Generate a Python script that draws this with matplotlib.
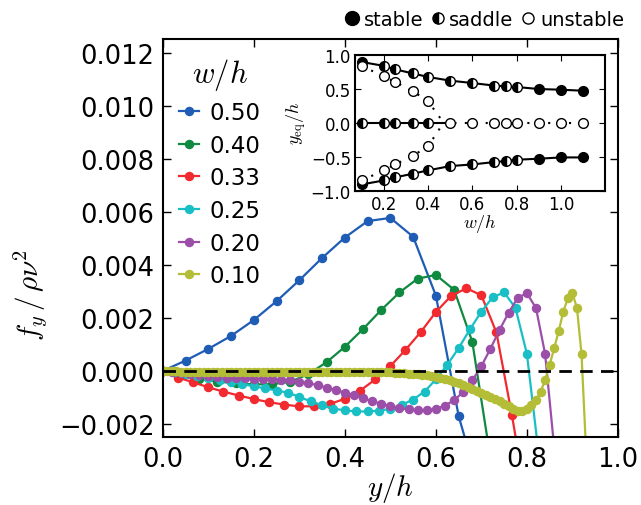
import matplotlib
matplotlib.use("Agg")
import matplotlib.pyplot as plt
from matplotlib.lines import Line2D

plt.rcParams['mathtext.fontset'] = 'cm'
plt.rcParams['font.family'] = ['DejaVu Sans']

# main panel: lift force vs position, one curve per w/h
y_050 = [0.0, 0.05, 0.10, 0.15, 0.20, 0.25, 0.30, 0.35, 0.40, 0.45, 0.50, 0.55, 0.60, 0.65, 0.70]
f_050 = [0.0, 0.00039, 0.00083, 0.00132, 0.00192, 0.00263, 0.00342, 0.00426, 0.00503, 0.00565,
         0.00577, 0.00506, 0.00284, -0.0017, -0.0047]

y_040 = [0.0, 0.04, 0.08, 0.12, 0.16, 0.20, 0.24, 0.28, 0.32, 0.36, 0.40, 0.44, 0.48, 0.52,
         0.56, 0.60, 0.64, 0.68, 0.72]
f_040 = [0.0, -0.00015, -0.0003, -0.0004, -0.00047, -0.00051, -0.0005, -0.00041, -0.00012,
         0.00033, 0.00091, 0.00158, 0.0023, 0.00296, 0.00348, 0.00362, 0.00306, 0.0011, -0.0033]

y_033 = [0.0, 0.033, 0.067, 0.100, 0.133, 0.167, 0.200, 0.233, 0.267, 0.300, 0.333, 0.367,
         0.400, 0.433, 0.467, 0.500, 0.533, 0.567, 0.600, 0.633, 0.667, 0.700, 0.733, 0.767, 0.800]
f_033 = [0.0, -0.00025, -0.00043, -0.00062, -0.00078, -0.00093, -0.00106, -0.00118, -0.00127,
         -0.00134, -0.00133, -0.00125, -0.00105, -0.00075, -0.00032, 0.00018, 0.00079, 0.00147,
         0.00222, 0.00282, 0.00312, 0.00285, 0.00145, -0.00166, -0.0050]

y_025 = [0.0, 0.025, 0.05, 0.075, 0.10, 0.125, 0.15, 0.175, 0.20, 0.225, 0.25, 0.275, 0.30,
         0.325, 0.35, 0.375, 0.40, 0.425, 0.45, 0.475, 0.50, 0.525, 0.55, 0.575, 0.60, 0.625,
         0.65, 0.675, 0.70, 0.725, 0.75, 0.775, 0.80, 0.825]
f_025 = [0.0, -0.00005, -0.0001, -0.00018, -0.00026, -0.00034, -0.00042, -0.0005, -0.00058,
         -0.00066, -0.00074, -0.00082, -0.00098, -0.00115, -0.0013, -0.00142, -0.00149, -0.00153,
         -0.00153, -0.0015, -0.00143, -0.00128, -0.00108, -0.00078, -0.00032, 0.00023, 0.00086,
         0.00157, 0.00224, 0.00278, 0.00296, 0.00237, 0.00064, -0.0030]

y_020 = [0.0, 0.02, 0.04, 0.06, 0.08, 0.10, 0.12, 0.14, 0.16, 0.18, 0.20, 0.22, 0.24, 0.26,
         0.28, 0.30, 0.32, 0.34, 0.36, 0.38, 0.40, 0.42, 0.44, 0.46, 0.48, 0.50, 0.52, 0.54,
         0.56, 0.58, 0.60, 0.62, 0.64, 0.66, 0.68, 0.70, 0.72, 0.74, 0.76, 0.78, 0.80, 0.82,
         0.84, 0.86]
f_020 = [0.0, -0.00004, -0.00008, -0.00012, -0.00016, -0.0002, -0.00023, -0.00025, -0.00027,
         -0.00028, -0.00029, -0.0003, -0.00031, -0.00033, -0.00036, -0.0004, -0.00046, -0.00054,
         -0.00063, -0.00072, -0.00082, -0.00092, -0.00103, -0.00114, -0.00124, -0.00133, -0.0014,
         -0.00145, -0.00148, -0.00148, -0.00143, -0.00131, -0.0011, -0.0008, -0.00036, 0.00018,
         0.00084, 0.00155, 0.0022, 0.00276, 0.00293, 0.00237, 0.00064, -0.0029]

y_010 = [0.00, 0.01, 0.02, 0.03, 0.04, 0.05, 0.06, 0.07, 0.08, 0.09, 0.10, 0.11, 0.12, 0.13,
         0.14, 0.15, 0.16, 0.17, 0.18, 0.19, 0.20, 0.21, 0.22, 0.23, 0.24, 0.25, 0.26, 0.27,
         0.28, 0.29, 0.30, 0.31, 0.32, 0.33, 0.34, 0.35, 0.36, 0.37, 0.38, 0.39, 0.40, 0.41,
         0.42, 0.43, 0.44, 0.45, 0.46, 0.47, 0.48, 0.49, 0.50, 0.51, 0.52, 0.53, 0.54, 0.55,
         0.56, 0.57, 0.58, 0.59, 0.60, 0.61, 0.62, 0.63, 0.64, 0.65, 0.66, 0.67, 0.68, 0.69,
         0.70, 0.71, 0.72, 0.73, 0.74, 0.75, 0.76, 0.77, 0.78, 0.79, 0.80, 0.81, 0.82, 0.83,
         0.84, 0.85, 0.86, 0.87, 0.88, 0.89, 0.90, 0.91, 0.92, 0.93]
f_010 = [0.0, -0.00001, -0.00002, -0.00002, -0.00003, -0.00003, -0.00003, -0.00003, -0.00003,
         -0.00003, -0.00003, -0.00003, -0.00003, -0.00003, -0.00003, -0.00003, -0.00003, -0.00003,
         -0.00003, -0.00003, -0.00003, -0.00003, -0.00003, -0.00003, -0.00003, -0.00003, -0.00003,
         -0.00003, -0.00003, -0.00003, -0.00003, -0.00003, -0.00003, -0.00003, -0.00003, -0.00003,
         -0.00003, -0.00003, -0.00003, -0.00003, -0.00003, -0.00003, -0.00003, -0.00003, -0.00003,
         -0.00003, -0.00003, -0.00004, -0.00004, -0.00005, -0.00005, -0.00006, -0.00007, -0.00008,
         -0.0001, -0.00011, -0.00013, -0.00015, -0.00017, -0.0002, -0.00022, -0.00027, -0.00031,
         -0.00035, -0.0004, -0.00046, -0.00052, -0.00059, -0.0007, -0.00075, -0.00082, -0.0009,
         -0.00098, -0.00106, -0.00115, -0.00124, -0.00134, -0.00144, -0.0015, -0.00152, -0.00143,
         -0.00128, -0.00108, -0.0008, -0.00034, 0.00023, 0.00086, 0.00151, 0.00224, 0.00274,
         0.00293, 0.00237, 0.00064, -0.0030]

curves = [
    ('0.50', '#1f5cb5', y_050, f_050),
    ('0.40', '#0f8a40', y_040, f_040),
    ('0.33', '#f02a2e', y_033, f_033),
    ('0.25', '#19bfc4', y_025, f_025),
    ('0.20', '#9b4fa8', y_020, f_020),
    ('0.10', '#b4bd36', y_010, f_010),
]

# inset: equilibrium positions vs w/h
w_eq = [0.1, 0.2, 0.25, 0.33, 0.4, 0.5, 0.6, 0.7, 0.75, 0.8, 0.9, 1.0, 1.1]
y_top = [0.892, 0.835, 0.785, 0.725, 0.672, 0.618, 0.583, 0.545, 0.535, 0.525, 0.495, 0.485, 0.47]
y_bot = [-0.907, -0.848, -0.804, -0.75, -0.70, -0.637, -0.613, -0.578, -0.564, -0.544, -0.529, -0.51, -0.51]
outer_state = ['stable', 'saddle', 'saddle', 'saddle', 'saddle', 'saddle', 'saddle', 'saddle',
               'saddle', 'saddle', 'stable', 'stable', 'stable']
y_mid = [0.0] * 13
mid_state = ['saddle', 'saddle', 'saddle', 'saddle', 'saddle', 'unstable', 'unstable', 'unstable',
             'unstable', 'unstable', 'unstable', 'unstable', 'unstable']
w_un = [0.1, 0.2, 0.25, 0.33, 0.4]
y_un_top = [0.833, 0.68, 0.60, 0.466, 0.314]
y_un_bot = [-0.848, -0.70, -0.613, -0.49, -0.343]
w_crit = 0.47

marker_style = {
    'stable': dict(marker='o', color='k', mfc='k', mec='k'),
    'saddle': dict(marker='o', color='k', mfc='k', mec='k', fillstyle='left', markerfacecoloralt='w'),
    'unstable': dict(marker='o', color='k', mfc='w', mec='k'),
}

fig = plt.figure(figsize=(6.41, 5.06), dpi=100)
ax = fig.add_axes([0.254, 0.134, 0.710, 0.786])

for lab, col, yy, ff in curves:
    ax.plot(yy, ff, '-o', color=col, lw=1.6, ms=5.8, mec=col, label=lab)
ax.axhline(0, color='k', lw=2, dashes=(4.5, 3), zorder=5)

ax.set_xlim(0, 1)
ax.set_ylim(-0.0025, 0.0125)
ax.set_xticks([0.0, 0.2, 0.4, 0.6, 0.8, 1.0])
ax.set_yticks([-0.002, 0.0, 0.002, 0.004, 0.006, 0.008, 0.010, 0.012])
ax.set_yticklabels(['\u22120.002', '0.000', '0.002', '0.004', '0.006', '0.008', '0.010', '0.012'])
ax.tick_params(direction='in', length=6, width=1, labelsize=18.5, top=True, right=True, pad=6)
for sp in ax.spines.values():
    sp.set_linewidth(1.5)
ax.set_xlabel('$y/h$', fontsize=21, labelpad=-1)
ax.set_ylabel(r'$f_y\,/\,\rho\nu^2$', fontsize=21)
ax.yaxis.set_label_coords(-0.25, 0.36)

leg = ax.legend(loc='upper left', bbox_to_anchor=(0.0, 1.0), frameon=False, fontsize=16.5,
                title='$w/h$', title_fontsize=22, handlelength=0.9, handletextpad=0.45,
                labelspacing=0.42, borderaxespad=0.3)

# inset
axi = fig.add_axes([0.554, 0.621, 0.390, 0.269])
axi.plot(w_eq, y_top, 'k-', lw=1.5, zorder=2)
axi.plot(w_eq, y_bot, 'k-', lw=1.5, zorder=2)
solid_w = [w for w in w_eq if w <= w_crit] + [w_crit]
axi.plot(solid_w, [0.0] * len(solid_w), 'k-', lw=1.5, zorder=2)
dot_w = [w_crit] + [w for w in w_eq if w > w_crit]
axi.plot(dot_w, [0.0] * len(dot_w), color='k', lw=1.5, ls=(0, (1, 4)), zorder=2)
axi.plot(w_un + [w_crit], y_un_top + [0.0], color='k', lw=1.5, ls=(0, (1, 4)), zorder=2)
axi.plot(w_un + [w_crit], y_un_bot + [0.0], color='k', lw=1.5, ls=(0, (1, 4)), zorder=2)

for branch, states in [(y_top, outer_state), (y_bot, outer_state), (y_mid, mid_state)]:
    for w, yv, st in zip(w_eq, branch, states):
        axi.plot([w], [yv], ls='none', ms=7, mew=1, zorder=3, **marker_style[st])
for yy in (y_un_top, y_un_bot):
    axi.plot(w_un, yy, ls='none', ms=7, mew=1, zorder=3, **marker_style['unstable'])

axi.set_xlim(0.07, 1.2)
axi.set_ylim(-1.0, 1.0)
axi.set_xticks([0.2, 0.4, 0.6, 0.8, 1.0])
axi.set_yticks([-1.0, -0.5, 0.0, 0.5, 1.0])
axi.set_yticklabels(['\u22121.0', '\u22120.5', '0.0', '0.5', '1.0'])
axi.tick_params(direction='in', length=4, labelsize=12, top=True, right=True, pad=3)
for sp in axi.spines.values():
    sp.set_linewidth(1.5)
axi.set_xlabel('$w/h$', fontsize=13, labelpad=-1)
axi.set_ylabel(r'$y_{\rm eq}/h$', fontsize=13, labelpad=2)

# state key above the axes
handles = [Line2D([], [], ls='none', ms=10, **marker_style['stable']),
           Line2D([], [], ls='none', ms=8, **marker_style['saddle']),
           Line2D([], [], ls='none', ms=8, **marker_style['unstable'])]
fig.legend(handles, ['stable', 'saddle', 'unstable'], loc='upper right',
           bbox_to_anchor=(0.99, 1.0), ncol=3, frameon=False, fontsize=14,
           handlelength=0.8, handletextpad=0.2, columnspacing=0.35, borderaxespad=0.15)

fig.savefig('out.png', dpi=100)
